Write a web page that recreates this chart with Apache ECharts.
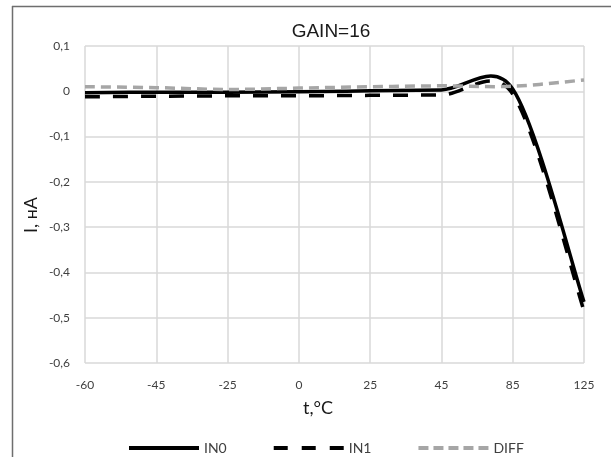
<!DOCTYPE html>
<html>
<head>
<meta charset="utf-8">
<script src="https://cdn.jsdelivr.net/npm/echarts@6/dist/echarts.min.js"></script>
<style>
html,body{margin:0;padding:0;background:#fff;}
#chart{width:611px;height:457px;}
</style>
</head>
<body>
<div id="chart"></div>
<script>
const categories = ['-60', '-45', '-25', '0', '25', '45', '85', '125'];
const in0 = [-0.003, -0.002, -0.002, -0.001, 0.001, 0.003, 0.005, -0.465];
const in1 = [-0.012, -0.011, -0.010, -0.010, -0.009, -0.008, -0.006, -0.485];
const diff = [0.010, 0.008, 0.004, 0.007, 0.010, 0.012, 0.011, 0.025];
const yTicks = { min: -0.6, max: 0.1, step: 0.1 };

function dist(a, b) { return Math.hypot(a[0] - b[0], a[1] - b[1]); }
// Excel-like smoothed bezier through the pixel points
function smoothPath(pts) {
  let d = 'M' + pts[0][0] + ',' + pts[0][1];
  for (let i = 0; i < pts.length - 1; i++) {
    const p0 = pts[i - 1] || pts[i], p1 = pts[i], p2 = pts[i + 1], p3 = pts[i + 2] || pts[i + 1];
    const d02 = dist(p0, p2), d12 = dist(p1, p2), d13 = dist(p1, p3);
    let f0 = 1 / 6, f1 = 1 / 6;
    if (d02 > 0 && d02 / 6 >= d12 / 2) f0 = d12 / d02 / 2;
    if (d13 > 0 && d13 / 6 >= d12 / 2) f1 = d12 / d13 / 2;
    const c1 = [p1[0] + (p2[0] - p0[0]) * f0, p1[1] + (p2[1] - p0[1]) * f0];
    const c2 = [p2[0] - (p3[0] - p1[0]) * f1, p2[1] - (p3[1] - p1[1]) * f1];
    d += ' C' + c1[0] + ',' + c1[1] + ' ' + c2[0] + ',' + c2[1] + ' ' + p2[0] + ',' + p2[1];
  }
  return d;
}
function makeSeries(name, values, color, dash) {
  return {
    name: name, type: 'custom', coordinateSystem: 'cartesian2d',
    data: values.map((v, i) => [i, v]), encode: { x: 0, y: 1 },
    itemStyle: { color: color }, silent: true,
    renderItem: function (params, api) {
      if (params.dataIndex !== 0) return { type: 'group', children: [] };
      const pts = values.map((v, i) => api.coord([i, v]));
      return {
        type: 'path',
        shape: { pathData: smoothPath(pts) },
        style: { fill: null, stroke: color, lineWidth: 3.5, lineDash: dash, lineJoin: 'round' }
      };
    }
  };
}

const chart = echarts.init(document.getElementById('chart'));
const labelFont = 'Lato, "Open Sans", sans-serif';
chart.setOption({
  animation: false,
  backgroundColor: '#fff',
  title: {
    text: 'GAIN=16',
    left: 326, top: 17, textAlign: 'center',
    textStyle: { fontFamily: '"Liberation Sans", Arial, sans-serif', fontSize: 19, fontWeight: 'normal', color: '#1a1a1a' }
  },
  grid: { left: 85, right: 27, top: 46, bottom: 94 },
  legend: {
    left: 124, top: 436,
    itemWidth: 70, itemHeight: 14, itemGap: 47,
    textStyle: { fontFamily: labelFont, fontSize: 14, color: '#404040' },
    data: [
      { name: 'IN0', icon: 'path://M0,0H70V4H0Z' },
      { name: 'IN1', icon: 'path://M0,0H14V4H0Z M28,0H42V4H28Z M56,0H70V4H56Z' },
      { name: 'DIFF', icon: 'path://M0,0H10V4H0Z M15,0H25V4H15Z M30,0H40V4H30Z M45,0H55V4H45Z M60,0H70V4H60Z' }
    ]
  },
  xAxis: {
    type: 'category', data: categories, boundaryGap: false,
    axisLine: { show: false }, axisTick: { show: false },
    axisLabel: { margin: 16, fontFamily: labelFont, fontSize: 12, color: '#404040' },
    splitLine: { show: true, interval: 0, lineStyle: { color: '#d9d9d9', width: 1.5 } }
  },
  yAxis: {
    type: 'value', min: yTicks.min, max: yTicks.max, interval: yTicks.step,
    axisLine: { show: false }, axisTick: { show: false },
    axisLabel: {
      margin: 15, fontFamily: labelFont, fontSize: 12, color: '#404040',
      formatter: v => Math.abs(v) < 1e-9 ? '0' : v.toFixed(1).replace('.', ',')
    },
    splitLine: { lineStyle: { color: '#d9d9d9', width: 1.5 } }
  },
  graphic: [
    { type: 'line', shape: { x1: 12.5, y1: 6, x2: 12.5, y2: 457 }, style: { stroke: '#6e6e6e', lineWidth: 1.5 } },
    { type: 'line', shape: { x1: 12, y1: 6.5, x2: 611, y2: 6.5 }, style: { stroke: '#6e6e6e', lineWidth: 1.5 } },
    { type: 'text', left: 22, top: 197, rotation: Math.PI / 2,
      style: { text: 'I, нА', font: '18px Lato, "Open Sans", sans-serif', fill: '#1a1a1a' } },
    { type: 'text', left: 303, top: 399,
      style: { text: 't,°C', font: '18px Lato, "Open Sans", sans-serif', fill: '#1a1a1a' } }
  ],
  series: [
    makeSeries('IN0', in0, '#000000', null),
    makeSeries('IN1', in1, '#000000', [15, 13]),
    makeSeries('DIFF', diff, '#a6a6a6', [10, 6])
  ]
});
</script>
</body>
</html>
